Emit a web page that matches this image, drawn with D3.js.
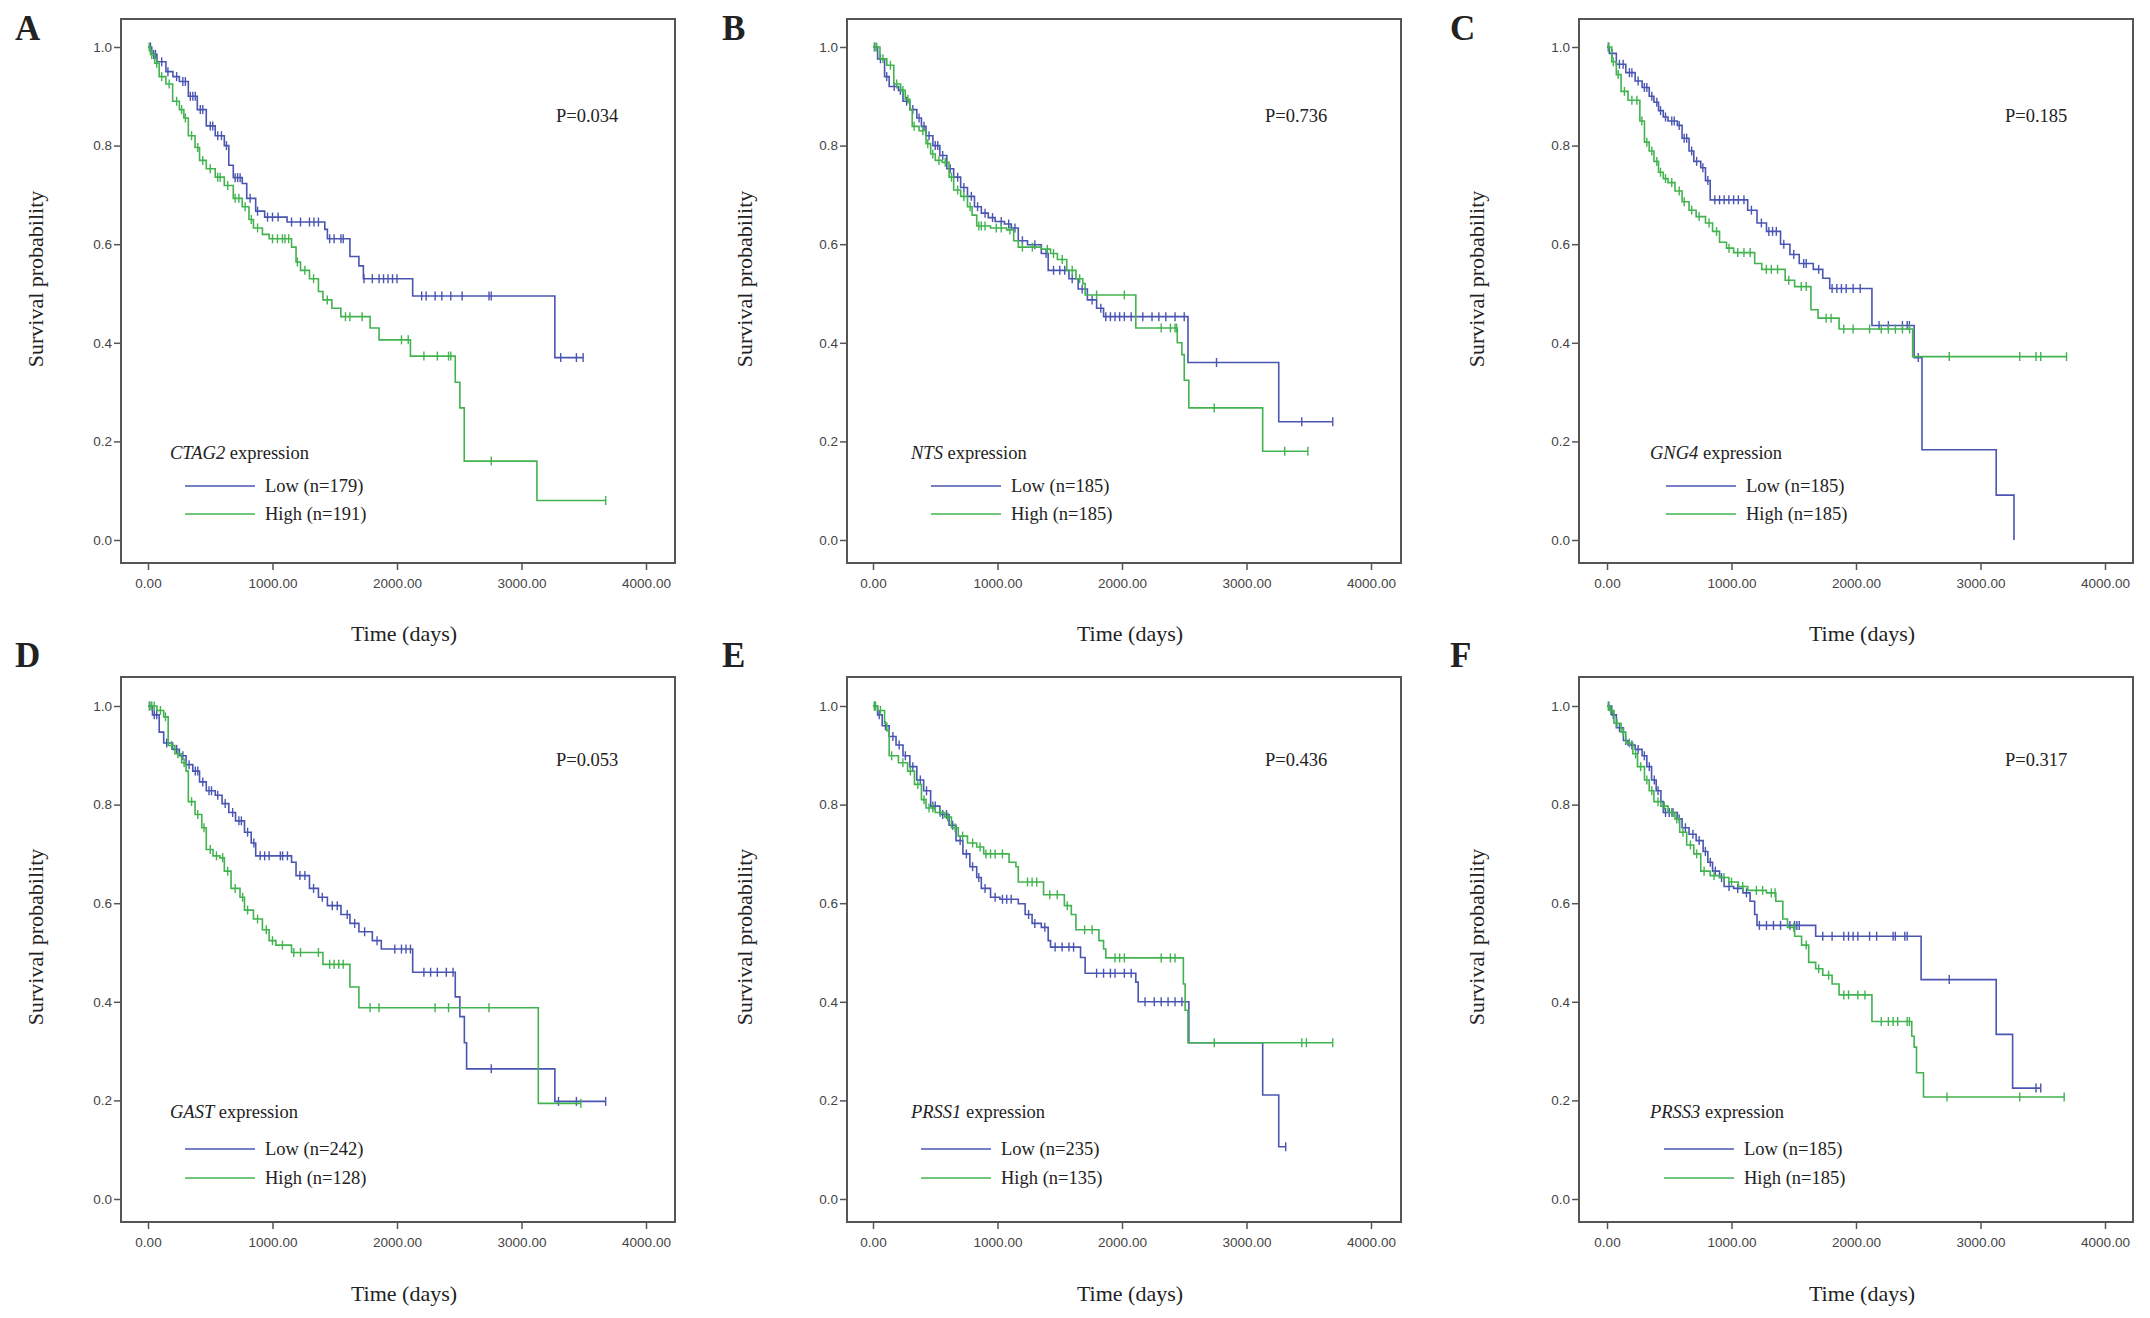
<!DOCTYPE html>
<html>
<head>
<meta charset="utf-8">
<script src="https://cdn.jsdelivr.net/npm/d3@7"></script>
<style>
  body { margin: 0; background: #fff; }
  svg { display: block; }
  .tick text { font-family: "Liberation Sans", Arial, sans-serif; font-size: 13.5px; fill: #444; }
  .tick line { stroke: #555; stroke-width: 1.5; }
  .serif { font-family: "Liberation Serif", "Times New Roman", serif; fill: #222; }
</style>
</head>
<body>
<svg id="chart" width="2150" height="1318"></svg>
<script>
const letters = ["A", "B", "C", "D", "E", "F"];
const genes = ["CTAG2", "NTS", "GNG4", "GAST", "PRSS1", "PRSS3"];
const pValues = ["0.034", "0.736", "0.185", "0.053", "0.436", "0.317"];
const lowN = [179, 185, 185, 242, 235, 185];
const highN = [191, 185, 185, 128, 135, 185];
const xTicks = [0, 1000, 2000, 3000, 4000];
const yTicks = [0, 0.2, 0.4, 0.6, 0.8, 1.0];

// [time, survival after the event]
const lowStepsA = [[30,0.985],[72,0.97],[144,0.95],[200,0.94],[252,0.93],[324,0.90],[396,0.873],[468,0.84],[540,0.82],[613,0.80],[649,0.76],[685,0.735],[757,0.723],[793,0.693],[865,0.667],[937,0.655],[1117,0.645],[1420,0.63],[1441,0.611],[1622,0.575],[1694,0.556],[1730,0.53],[2126,0.495],[3268,0.37]];
const lowCensorA = [20,45,60,110,160,230,280,300,340,360,380,420,440,500,520,560,590,630,700,720,740,820,880,960,1000,1045,1153,1225,1297,1333,1369,1459,1495,1550,1568,1735,1802,1856,1892,1928,1964,2000,2198,2234,2306,2360,2432,2523,2739,2757,3315,3441,3495];
const highStepsA = [[20,0.985],[54,0.967],[90,0.94],[144,0.925],[198,0.89],[252,0.873],[288,0.856],[324,0.82],[378,0.796],[414,0.77],[468,0.753],[540,0.736],[613,0.719],[685,0.693],[757,0.676],[811,0.65],[847,0.633],[919,0.62],[973,0.611],[1153,0.594],[1189,0.564],[1225,0.547],[1297,0.53],[1369,0.504],[1405,0.487],[1477,0.47],[1549,0.453],[1784,0.43],[1856,0.406],[2108,0.373],[2468,0.32],[2505,0.268],[2540,0.16],[3124,0.08]];
const highCensorA = [10,30,70,110,170,230,270,300,350,400,440,500,560,580,640,700,730,780,830,880,1000,1040,1080,1100,1130,1200,1260,1330,1440,1586,1622,1720,2036,2090,2216,2324,2414,2432,2757,3676];

const lowStepsB = [[37,0.976],[93,0.94],[130,0.92],[204,0.912],[241,0.89],[296,0.873],[352,0.856],[389,0.839],[426,0.82],[481,0.80],[537,0.78],[593,0.753],[648,0.736],[704,0.715],[759,0.697],[815,0.676],[870,0.663],[926,0.654],[981,0.646],[1056,0.641],[1111,0.633],[1167,0.607],[1241,0.599],[1352,0.581],[1407,0.547],[1574,0.53],[1648,0.509],[1722,0.487],[1796,0.47],[1852,0.453],[2530,0.36],[3259,0.24]];
const lowCensorB = [15,60,110,170,220,270,320,370,410,450,500,520,560,620,680,730,790,840,900,960,1030,1090,1140,1200,1300,1390,1450,1500,1540,1600,1680,1760,1830,1870,1907,1944,1981,2019,2074,2167,2241,2296,2352,2426,2500,2759,3444,3693];
const highStepsB = [[56,0.976],[111,0.963],[167,0.925],[222,0.912],[259,0.894],[296,0.873],[315,0.839],[370,0.83],[426,0.804],[463,0.783],[500,0.77],[556,0.766],[611,0.736],[648,0.71],[704,0.697],[759,0.676],[796,0.659],[833,0.637],[944,0.633],[1074,0.629],[1130,0.607],[1167,0.594],[1352,0.59],[1426,0.581],[1481,0.569],[1556,0.547],[1630,0.53],[1685,0.52],[1704,0.497],[2111,0.43],[2444,0.40],[2481,0.376],[2500,0.324],[2537,0.268],[3130,0.18]];
const highCensorB = [10,30,80,140,190,240,280,330,400,440,480,530,580,630,680,730,780,850,870,900,990,1030,1100,1200,1280,1400,1450,1520,1600,1660,1796,2019,2315,2389,2426,2438,2741,3307,3493];

const lowStepsC = [[19,0.987],[75,0.965],[151,0.948],[226,0.931],[282,0.918],[339,0.90],[377,0.888],[414,0.871],[452,0.858],[490,0.85],[565,0.841],[603,0.815],[659,0.789],[697,0.768],[753,0.755],[791,0.729],[829,0.69],[1130,0.669],[1205,0.643],[1281,0.626],[1394,0.60],[1469,0.579],[1544,0.561],[1657,0.549],[1733,0.531],[1789,0.51],[2128,0.435],[2467,0.37],[2530,0.183],[3126,0.091],[3269,0.0]];
const lowCensorC = [10,40,100,130,180,200,250,300,320,360,400,430,470,520,540,580,620,640,680,720,770,810,866,904,941,979,1017,1055,1100,1160,1240,1300,1330,1360,1420,1500,1580,1600,1700,1808,1846,1883,1921,1977,2034,2185,2260,2373,2411,2429,2500];
const highStepsC = [[38,0.97],[75,0.944],[113,0.91],[169,0.892],[264,0.85],[301,0.807],[339,0.789],[377,0.768],[414,0.746],[452,0.733],[490,0.725],[546,0.708],[603,0.686],[659,0.669],[716,0.656],[791,0.643],[848,0.626],[904,0.604],[960,0.592],[1017,0.583],[1186,0.561],[1243,0.549],[1431,0.527],[1507,0.514],[1638,0.467],[1695,0.45],[1864,0.428],[2455,0.372]];
const highCensorC = [15,50,90,140,200,240,280,320,360,400,430,470,520,580,620,680,740,820,880,980,1050,1100,1150,1280,1320,1370,1460,1560,1600,1760,1800,1902,1977,2109,2203,2260,2316,2373,2430,2749,3315,3446,3484,3691];

const lowStepsD = [[36,0.982],[90,0.947],[126,0.925],[198,0.912],[252,0.899],[306,0.881],[360,0.868],[414,0.846],[468,0.828],[540,0.819],[595,0.802],[649,0.784],[703,0.767],[775,0.744],[829,0.722],[865,0.696],[1153,0.683],[1189,0.656],[1297,0.63],[1369,0.612],[1441,0.595],[1550,0.577],[1622,0.559],[1694,0.542],[1802,0.524],[1874,0.507],[2126,0.46],[2468,0.41],[2505,0.37],[2541,0.317],[2559,0.264],[3268,0.198]];
const lowCensorD = [15,50,70,150,230,280,330,380,400,440,490,510,560,620,680,730,750,800,850,901,937,973,1063,1081,1120,1220,1260,1330,1400,1480,1520,1600,1660,1740,1840,1982,2036,2072,2108,2216,2270,2324,2396,2450,2757,3297,3441,3676];
const highStepsD = [[72,0.991],[126,0.978],[162,0.92],[216,0.903],[270,0.885],[306,0.868],[324,0.806],[378,0.78],[432,0.753],[468,0.709],[522,0.696],[577,0.692],[613,0.665],[667,0.63],[739,0.612],[775,0.586],[847,0.568],[919,0.546],[973,0.524],[1027,0.515],[1153,0.50],[1405,0.476],[1622,0.43],[1694,0.388],[3135,0.194]];
const highCensorD = [10,30,50,100,140,190,240,290,350,400,450,500,550,600,640,700,760,800,880,950,1000,1080,1171,1225,1369,1459,1495,1532,1568,1784,1856,2306,2414,2739,3477];

const lowStepsE = [[37,0.982],[74,0.96],[130,0.938],[185,0.921],[241,0.899],[296,0.877],[352,0.85],[407,0.828],[463,0.797],[537,0.78],[611,0.758],[667,0.727],[722,0.70],[778,0.674],[833,0.652],[870,0.63],[944,0.612],[1019,0.608],[1167,0.599],[1222,0.577],[1278,0.559],[1352,0.551],[1407,0.524],[1426,0.511],[1667,0.49],[1704,0.458],[2111,0.44],[2130,0.40],[2537,0.317],[3130,0.211],[3259,0.106]];
const lowCensorE = [15,50,100,160,210,260,320,380,430,480,500,560,590,640,700,750,800,850,900,981,1040,1074,1110,1250,1300,1380,1463,1519,1574,1611,1796,1852,1907,1944,2019,2074,2185,2259,2315,2370,2426,2481,3315];
const highStepsE = [[37,0.991],[93,0.965],[111,0.95],[130,0.899],[204,0.885],[278,0.868],[333,0.841],[389,0.81],[426,0.793],[500,0.784],[574,0.775],[630,0.753],[685,0.736],[759,0.722],[833,0.714],[889,0.70],[1093,0.683],[1148,0.674],[1167,0.643],[1370,0.617],[1537,0.595],[1593,0.577],[1630,0.546],[1815,0.524],[1852,0.507],[1870,0.489],[2493,0.436],[2507,0.383],[2530,0.317]];
const highCensorE = [10,20,60,150,240,300,360,410,450,480,540,600,660,720,800,860,907,944,981,1040,1241,1278,1315,1420,1480,1560,1700,1760,1944,1981,2019,2315,2389,2426,2741,3444,3481,3693];

const lowStepsF = [[38,0.982],[75,0.956],[132,0.93],[169,0.921],[226,0.912],[282,0.899],[320,0.877],[358,0.85],[395,0.828],[433,0.806],[452,0.784],[565,0.771],[603,0.753],[659,0.74],[716,0.727],[772,0.705],[810,0.683],[848,0.665],[904,0.652],[941,0.634],[1017,0.63],[1092,0.621],[1149,0.604],[1186,0.577],[1205,0.555],[1676,0.533],[2523,0.445],[3126,0.334],[3258,0.225]];
const lowCensorF = [15,50,100,150,200,250,300,340,380,410,470,500,530,580,630,690,740,790,830,870,920,980,1050,1120,1224,1281,1337,1394,1469,1507,1525,1544,1733,1808,1902,1940,1977,2015,2109,2166,2298,2316,2392,2411,2749,3446,3484];
const highStepsF = [[19,0.991],[56,0.965],[113,0.947],[151,0.925],[207,0.903],[245,0.877],[301,0.85],[339,0.828],[377,0.806],[433,0.797],[490,0.784],[546,0.771],[584,0.744],[640,0.718],[697,0.70],[753,0.665],[829,0.656],[904,0.652],[979,0.643],[1055,0.634],[1130,0.626],[1281,0.621],[1356,0.604],[1412,0.568],[1450,0.551],[1507,0.533],[1563,0.515],[1620,0.48],[1676,0.467],[1733,0.454],[1808,0.436],[1864,0.414],[2128,0.36],[2448,0.33],[2467,0.308],[2486,0.256],[2542,0.207]];
const highCensorF = [10,30,80,130,180,230,270,320,360,410,460,520,560,610,670,720,780,860,940,1000,1090,1200,1250,1320,1350,1500,1600,1700,1780,1902,1940,2015,2072,2203,2260,2298,2335,2411,2429,2731,3315,3672];

const lowSteps = [lowStepsA, lowStepsB, lowStepsC, lowStepsD, lowStepsE, lowStepsF];
const lowCensor = [lowCensorA, lowCensorB, lowCensorC, lowCensorD, lowCensorE, lowCensorF];
const highSteps = [highStepsA, highStepsB, highStepsC, highStepsD, highStepsE, highStepsF];
const highCensor = [highCensorA, highCensorB, highCensorC, highCensorD, highCensorE, highCensorF];

const BLUE = "#4a55b2";
const GREEN = "#41b34f";

// layout of the 3 columns and 2 rows
const cols = [
  { left: 121, x0: 148, letterX: 15, ylabX: 35, pX: 556 },
  { left: 847, x0: 873, letterX: 722, ylabX: 744, pX: 1265 },
  { left: 1579, x0: 1607, letterX: 1450, ylabX: 1476, pX: 2005 },
];
const rows = [
  { top: 19, bottom: 563, y1: 47, y0: 540, letterY: 40, pY: 122, legTitleY: 459, legY: [486, 514], timeY: 641, ylabY: 279 },
  { top: 677, bottom: 1222, y1: 706, y0: 1199, letterY: 667, pY: 766, legTitleY: 1118, legY: [1149, 1178], timeY: 1301, ylabY: 937 },
];
const legTitleX = [170, 911, 1650, 170, 911, 1650];
const legLineX = [185, 931, 1666, 185, 921, 1664];
const BOX_W = 554;
const PLOT_W = 498;

const svg = d3.select("#chart");
svg.append("rect").attr("width", 2150).attr("height", 1318).attr("fill", "#fff");

function survivalAt(steps, t) {
  const i = d3.bisector((d) => d[0]).right(steps, t);
  return i === 0 ? 1 : steps[i - 1][1];
}

function drawCurve(g, x, y, steps, censors, color) {
  const last = steps[steps.length - 1];
  const end = Math.max(last[0], d3.max(censors));
  const pts = [[0, 1], ...steps, [end, last[1]]];
  const line = d3.line().x((d) => x(d[0])).y((d) => y(d[1])).curve(d3.curveStepAfter);
  g.append("path").attr("d", line(pts)).attr("fill", "none").attr("stroke", color).attr("stroke-width", 1.6);
  g.append("g")
    .selectAll("line")
    .data(censors)
    .join("line")
    .attr("x1", (d) => x(d))
    .attr("x2", (d) => x(d))
    .attr("y1", (d) => y(survivalAt(steps, d)) - 4.5)
    .attr("y2", (d) => y(survivalAt(steps, d)) + 4.5)
    .attr("stroke", color)
    .attr("stroke-width", 1.4);
}

letters.forEach((letter, i) => {
  const c = cols[i % 3];
  const r = rows[Math.floor(i / 3)];
  const x = d3.scaleLinear().domain([0, 4000]).range([c.x0, c.x0 + PLOT_W]);
  const y = d3.scaleLinear().domain([0, 1]).range([r.y0, r.y1]);
  const g = svg.append("g").attr("class", "panel");

  g.append("rect")
    .attr("x", c.left).attr("y", r.top)
    .attr("width", BOX_W).attr("height", r.bottom - r.top)
    .attr("fill", "none").attr("stroke", "#555").attr("stroke-width", 2);

  const ya = g.append("g").attr("transform", `translate(${c.left},0)`)
    .call(d3.axisLeft(y).tickValues(yTicks).tickFormat(d3.format(".1f")).tickSize(7).tickPadding(2));
  ya.select(".domain").remove();
  const xa = g.append("g").attr("transform", `translate(0,${r.bottom})`)
    .call(d3.axisBottom(x).tickValues(xTicks).tickFormat(d3.format(".2f")).tickSize(7).tickPadding(8));
  xa.select(".domain").remove();

  drawCurve(g, x, y, lowSteps[i], lowCensor[i], BLUE);
  drawCurve(g, x, y, highSteps[i], highCensor[i], GREEN);

  g.append("text").attr("class", "serif").attr("x", c.letterX).attr("y", r.letterY)
    .attr("font-size", 35).attr("font-weight", "bold").attr("fill", "#111").text(letter);

  g.append("text").attr("class", "serif")
    .attr("transform", `translate(${c.ylabX},${r.ylabY}) rotate(-90)`)
    .attr("text-anchor", "middle").attr("dominant-baseline", "central")
    .attr("font-size", 22).text("Survival probability");

  g.append("text").attr("class", "serif")
    .attr("x", c.left + BOX_W / 2 + 6).attr("y", r.timeY)
    .attr("text-anchor", "middle").attr("font-size", 22).text("Time (days)");

  g.append("text").attr("class", "serif").attr("x", c.pX).attr("y", r.pY)
    .attr("font-size", 18.5).text(`P=${pValues[i]}`);

  const title = g.append("text").attr("class", "serif")
    .attr("x", legTitleX[i]).attr("y", r.legTitleY).attr("font-size", 18.5);
  title.append("tspan").attr("font-style", "italic").text(genes[i]);
  title.append("tspan").text(" expression");

  const items = [[`Low (n=${lowN[i]})`, BLUE], [`High (n=${highN[i]})`, GREEN]];
  items.forEach(([label, color], k) => {
    const ly = r.legY[k];
    g.append("line").attr("x1", legLineX[i]).attr("x2", legLineX[i] + 70)
      .attr("y1", ly).attr("y2", ly).attr("stroke", color).attr("stroke-width", 1.6);
    g.append("text").attr("class", "serif").attr("x", legLineX[i] + 80).attr("y", ly + 6)
      .attr("font-size", 18.5).text(label);
  });
});
</script>
</body>
</html>
